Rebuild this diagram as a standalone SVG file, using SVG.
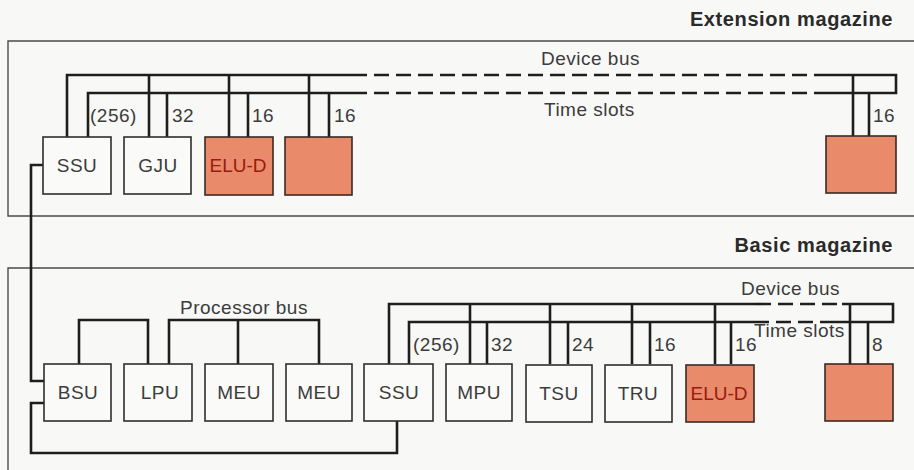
<svg xmlns="http://www.w3.org/2000/svg" width="914" height="470" viewBox="0 0 914 470">
<style>
text{font-family:"Liberation Sans",Arial,sans-serif;fill:#3c3c3c}
.lbl{font-size:19px;letter-spacing:0.5px}
.ttl{font-size:20px;font-weight:bold;fill:#2a2a2a;letter-spacing:0.6px}
.box{fill:#fafaf8;stroke:#2e2e2e;stroke-width:1.6}
.org{fill:#e98a6b;stroke:#3a2a24;stroke-width:1.6}
.frame{fill:none;stroke:#4a4a4a;stroke-width:1.4}
.w{fill:none;stroke:#1e1e1e;stroke-width:2.6;stroke-linejoin:miter;stroke-linecap:butt}
.d{fill:none;stroke:#1e1e1e;stroke-width:2.6;stroke-dasharray:15 7}
.red{fill:#9a1a10;letter-spacing:0}
.c{text-anchor:middle}
</style>
<rect width="914" height="470" fill="#f8f8f6"/>
<g id="frames">
<path class="frame" d="M920,41 H8 V216 H920"/>
<path class="frame" d="M920,268 H8 V475"/>
<text class="ttl" x="893" y="26" text-anchor="end">Extension magazine</text>
<text class="ttl" x="893" y="252" text-anchor="end">Basic magazine</text>
</g>
<g id="connectors">
<path class="w" d="M67,137 V75 H352"/>
<path class="d" d="M352,75 H815"/>
<path class="w" d="M815,75 H896 V93 H815"/>
<path class="w" d="M88,137 V93 H352"/>
<path class="d" d="M352,93 H815"/>
<path class="w" d="M149,137 V75 M167,137 V93 M229,137 V75 M248,137 V93 M309,137 V75 M329,137 V93 M853,136 V75 M869,136 V93"/>
<path class="w" d="M43,165 H31 V381 H44"/>
<path class="w" d="M79,364 V320 H148 V364"/>
<path class="w" d="M169,364 V320 H319 V364 M238,320 V364"/>
<path class="w" d="M397,421 V453 H31 V403 H44"/>
<path class="w" d="M389,364 V304 H756"/>
<path class="d" d="M756,304 H842"/>
<path class="w" d="M842,304 H893 V322 H834"/>
<path class="w" d="M409,364 V322 H754"/>
<path class="d" d="M754,322 H834"/>
<path class="w" d="M470,364 V304 M487,364 V322 M550,364 V304 M568,364 V322 M632,364 V304 M650,364 V322 M715,364 V304 M731,364 V322 M850,364 V304 M868,364 V322"/>
</g>
<g id="bus-labels">
<text class="lbl" x="541" y="65">Device bus</text>
<text class="lbl" x="544" y="116">Time slots</text>
<text class="lbl" x="741" y="295">Device bus</text>
<text class="lbl" x="754" y="337">Time slots</text>
<text class="lbl" x="180" y="314">Processor bus</text>
<text class="lbl" x="90" y="122">(256)</text>
<text class="lbl" x="172" y="122">32</text>
<text class="lbl" x="252" y="122">16</text>
<text class="lbl" x="334" y="122">16</text>
<text class="lbl" x="873" y="122">16</text>
<text class="lbl" x="413" y="351">(256)</text>
<text class="lbl" x="491" y="351">32</text>
<text class="lbl" x="572" y="351">24</text>
<text class="lbl" x="654" y="351">16</text>
<text class="lbl" x="735" y="351">16</text>
<text class="lbl" x="872" y="351">8</text>
</g>
<g id="ext-ssu"><rect class="box" x="43" y="137" width="68" height="57"/><text class="lbl c" x="77" y="172">SSU</text></g>
<g id="ext-gju"><rect class="box" x="124" y="137" width="67" height="57"/><text class="lbl c" x="158" y="172">GJU</text></g>
<g id="ext-elud"><rect class="org" x="205" y="137" width="68" height="58"/><text class="lbl c red" x="238" y="172">ELU-D</text></g>
<g id="ext-dev1"><rect class="org" x="285" y="137" width="67" height="58"/></g>
<g id="ext-dev2"><rect class="org" x="826" y="136" width="70" height="57"/></g>
<g id="bsu"><rect class="box" x="44" y="364" width="67" height="57"/><text class="lbl c" x="78" y="399">BSU</text></g>
<g id="lpu"><rect class="box" x="124" y="364" width="68" height="57"/><text class="lbl c" x="160" y="399">LPU</text></g>
<g id="meu1"><rect class="box" x="205" y="364" width="68" height="57"/><text class="lbl c" x="239" y="399">MEU</text></g>
<g id="meu2"><rect class="box" x="286" y="364" width="66" height="57"/><text class="lbl c" x="319" y="399">MEU</text></g>
<g id="ssu"><rect class="box" x="364" y="364" width="69" height="57"/><text class="lbl c" x="399" y="399">SSU</text></g>
<g id="mpu"><rect class="box" x="446" y="364" width="66" height="57"/><text class="lbl c" x="479" y="399">MPU</text></g>
<g id="tsu"><rect class="box" x="526" y="365" width="66" height="57"/><text class="lbl c" x="559" y="400">TSU</text></g>
<g id="tru"><rect class="box" x="605" y="365" width="67" height="57"/><text class="lbl c" x="638" y="400">TRU</text></g>
<g id="elud"><rect class="org" x="686" y="365" width="68" height="57"/><text class="lbl c red" x="719" y="400">ELU-D</text></g>
<g id="dev"><rect class="org" x="825" y="364" width="68" height="57"/></g>
</svg>
